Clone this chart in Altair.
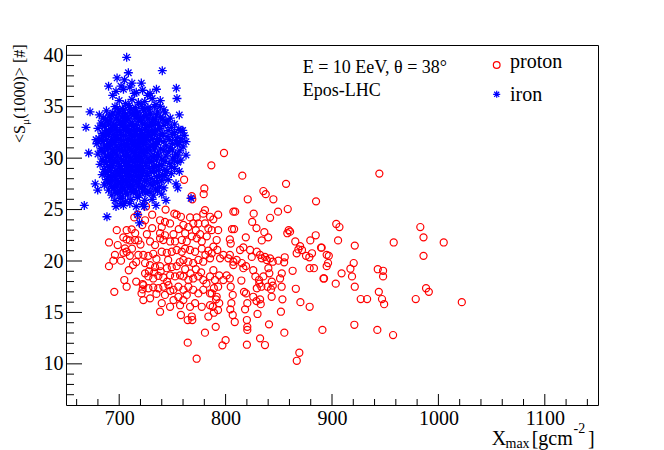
import altair as alt
import pandas as pd

# ---------------- data ----------------
proton_xmax = [
    944.5, 904, 907, 905.7, 921.4, 890.3, 897, 896.3, 895, 920.4,
    917.3, 918.8, 909, 892.5, 903.5, 921.4, 927, 933, 944, 947,
    949, 943, 948, 948, 958, 983, 986, 1005, 986, 988.4,
    991, 978.7, 1022, 891, 921, 942.6, 957.4,
    798.5, 786.6, 815.7, 856.8, 835.5, 837.7, 820.8, 844.9, 885, 858.4,
    849.3, 807.3, 809, 826.4, 841.8, 793, 788.5, 825, 829, 806,
    808, 793, 836.4, 859.3, 858, 860.6, 884.7, 819, 840, 834,
    804, 804.8, 865.5, 879.6, 870, 871.8, 889.7, 895, 881.2, 875.6,
    878.7, 866.8, 868.4, 855.6, 855, 849.6, 863, 879, 883, 892,
    866, 870.3, 879, 853.4, 852, 840.8, 855.2, 832.4, 837, 869.3,
    866.9, 820, 797, 800, 790.7, 820, 820.4, 820.4, 808.6, 806.7,
    830, 833, 832.4, 818.3, 820.4, 804.4, 805.4, 792.9, 789, 826,
    829, 843.3, 817.3, 819.2, 839.5, 842.7, 852.7, 804.8, 806.7, 791.6,
    787.9, 831.7, 833.6, 829.3, 843.4, 844.3, 851.2, 852.8, 840.2, 841.1,
    826, 828, 831.4, 835.5, 814.8, 801, 804, 797.9, 794, 788.5,
    790, 793, 807.3, 810.4, 815.2, 816.7, 819.2, 797.9, 802.6, 794.8,
    829.3, 832.4, 834, 837, 838.7, 841.8, 844.3, 823, 824.6, 816.7,
    813.6, 791.6, 788.5, 792.2, 787, 804, 807.3, 789, 787, 791,
    794,
    768.2, 768.7, 780, 779.4, 761, 725.2, 743.6, 717.4, 714.2, 731,
    754, 758, 751.8, 766.6, 772.8, 780.6, 779, 785.4, 738.4, 743,
    747.8, 740, 724.3, 721.7, 760.3, 765, 769.6, 774.4, 780.6, 783.8,
    787, 697.7, 707, 711.7, 715, 703.9, 707, 710, 714.9, 718,
    690.4, 698.6, 705.4, 704, 707, 696, 694.5, 701.7, 690.4, 718,
    722.7, 727.4, 732, 740, 744.7, 749.4, 754, 758.8, 729, 733.7,
    738.4, 741.5, 747.8, 752.5, 738.4, 743, 758.8, 763.5, 768.2, 772.9,
    777.6, 782.3, 761.9, 766.6, 771.3, 777.6, 783.8, 760.3, 765, 769.6,
    774.4, 779, 785.4, 724.3, 729, 733.7, 738.4, 744.7, 749.4, 754,
    724.3, 727.4, 732, 736.8, 741.5, 747.8, 752.5, 757.2, 760.3, 765,
    769.6, 774.4, 779, 785.4, 704.8, 707, 695.4, 722.7, 727.4, 732,
    736.8, 741.5, 746.3, 751, 755.6, 760.3, 765, 769.6, 774.4, 779,
    785.4, 721, 722.7, 729, 751, 755.6, 760.3, 763.5, 740, 747.8,
    738.4, 757.2, 766.6, 771.3, 777.6, 785.4, 758, 768.2, 764.4, 768.7,
    783.8, 780.6, 764.4, 772.8, 722, 722,
    712, 716, 720, 726, 731, 735, 746, 751, 756, 762,
    772, 776, 781, 757, 762, 767, 772, 777, 782, 748,
    743, 735, 745, 739, 733, 728, 713, 710, 709, 716,
]
proton_smu = [
    28.5, 23.6, 23.3, 22.0, 21.5, 21.3, 20.5, 19.8, 19.5, 19.8,
    19.25, 18.5, 18.8, 18.3, 17.8, 17.5, 16.3, 16.3, 17.0, 16.3,
    15.8, 19.2, 19.05, 18.5, 21.8, 23.3, 22.3, 21.8, 20.5, 17.35,
    17.0, 16.3, 16.0, 13.3, 13.8, 13.3, 12.8,
    30.5, 29.3, 28.3, 27.5, 26.8, 26.5, 26.0, 26.0, 25.8, 25.05,
    24.8, 24.8, 24.8, 24.6, 24.2, 24.5, 24.05, 23.8, 23.2, 23.1,
    23.1, 23.0, 22.8, 23.0, 22.7, 22.85, 22.5, 22.3, 22.3, 22.0,
    22.1, 21.7, 21.9, 22.0, 21.45, 21.07, 21.3, 20.6, 20.75, 20.5,
    20.36, 20.75, 21.13, 20.36, 19.87, 20.03, 19.05, 19.3, 19.3, 18.3,
    17.3, 16.0, 15.55, 16.27, 15.07, 13.84, 13.03, 12.48, 11.83, 11.08,
    10.3, 11.86, 11.8, 12.3, 13.6, 14.26, 13.6, 13.3, 14.07, 14.75,
    14.85, 15.8, 16.27, 15.3, 15.9, 15.3, 15.9, 15.23, 14.97, 16.52,
    16.1, 16.52, 17.0, 16.85, 17.5, 17.24, 17.5, 17.5, 16.7, 16.52,
    15.55, 17.8, 17.5, 17.35, 18.0, 17.6, 18.3, 18.8, 19.3, 18.8,
    19.1, 18.5, 18.15, 18.5, 18.1, 18.6, 18.3, 18.15, 18.6, 19.1,
    18.15, 17.5, 19.6, 20.1, 19.8, 19.3, 19.5, 20.6, 20.26, 20.26,
    20.9, 20.6, 20.26, 20.4, 20.1, 20.26, 19.93, 21.07, 20.4, 21.33,
    21.07, 22.04, 21.4, 21.07, 20.75, 20.6, 19.93, 17.35, 16.85, 16.27,
    15.9,
    26.3, 26.0, 27.05, 26.5, 27.9, 25.3, 25.0, 24.5, 24.24, 24.5,
    24.5, 24.3, 24.6, 24.24, 24.24, 24.95, 24.6, 24.3, 23.96, 23.8,
    23.65, 23.3, 23.96, 23.5, 23.5, 23.3, 23.65, 23.65, 23.65, 23.17,
    23.0, 23.0, 23.0, 23.08, 22.7, 22.3, 22.1, 22.0, 22.04, 22.0,
    21.8, 21.55, 21.23, 20.8, 20.9, 20.6, 20.03, 20.03, 19.5, 20.6,
    20.6, 20.5, 20.7, 20.9, 20.8, 20.9, 21.07, 20.9, 21.9, 21.55,
    22.2, 22.04, 21.9, 21.9, 22.7, 22.5, 22.04, 21.9, 22.4, 22.2,
    21.9, 22.4, 21.2, 21.07, 20.9, 21.2, 21.0, 20.1, 19.93, 19.8,
    20.1, 19.93, 20.26, 19.8, 19.6, 19.4, 19.5, 19.3, 19.4, 19.5,
    18.8, 18.5, 18.3, 18.55, 18.4, 18.6, 18.5, 18.6, 18.5, 18.15,
    18.3, 18.5, 18.15, 18.5, 18.15, 17.5, 17.0, 17.66, 17.35, 17.44,
    17.35, 17.5, 17.66, 17.2, 17.5, 17.2, 17.5, 17.2, 16.85, 17.2,
    16.85, 16.85, 16.2, 16.37, 16.2, 16.5, 16.2, 16.7, 15.9, 15.55,
    15.07, 15.7, 15.55, 15.9, 15.55, 15.7, 14.75, 14.6, 14.26, 14.26,
    14.6, 13.03, 12.06, 10.5, 17.76, 17.24,
    21.2, 19.9, 21.6, 22.6, 23.2, 20.2, 20.1, 22.6, 23.1, 22.7,
    23.0, 22.6, 20.6, 19.9, 19.2, 18.8, 19.2, 18.9, 17.8, 17.1,
    16.7, 16.8, 18.0, 19.0, 18.9, 19.0, 19.6, 20.5, 19.1, 18.0,
]

iron_xmax = [
    707, 708.6, 740.5, 698, 690, 701.7, 720.8, 753.7, 754.3, 714.2,
    726.8, 693.9, 672.6, 668.8, 681.3, 756.5, 738.6, 734.6, 738.6, 759.7,
    761.2, 758, 743.3, 745.6, 678.2, 671.3, 667.2, 688.5, 677.5, 679.8,
    756.5, 753.4, 755, 744, 734.6, 723.6, 717.4, 719, 767.5, 701.7,
    697, 762.8, 762.8,
    697, 704, 710, 716, 722, 729, 735, 705, 712,
    700, 706, 712, 718, 724, 731,
    696, 703, 709, 715, 721, 727, 733,
    688, 694, 700, 706, 711, 717, 723, 729, 736, 742,
    685, 691, 697, 703, 708, 714, 720, 726, 732, 739, 748,
    683, 689, 695, 701, 706, 712, 718, 724, 730, 737, 744, 752,
    680, 686, 692, 697, 703, 708, 713, 719, 725, 731, 738, 749, 756,
    684, 690, 695, 701, 706, 711, 716, 721, 727, 733, 741, 752, 758,
    681, 687, 693, 698, 704, 709, 714, 719, 724, 730, 736, 745, 755,
    679, 685, 691, 696, 702, 707, 712, 717, 722, 728, 734, 742, 750, 757,
    683, 689, 694, 700, 705, 710, 715, 720, 726, 732, 739, 748, 760,
    680, 686, 692, 697, 703, 708, 713, 718, 723, 729, 736, 746, 753,
    684, 690, 695, 701, 706, 711, 716, 721, 727, 733, 740, 750, 758,
    682, 688, 693, 699, 704, 709, 714, 719, 725, 731, 738, 747, 755,
    686, 691, 697, 702, 707, 712, 717, 722, 728, 735, 743, 752,
    684, 689, 695, 700, 705, 710, 715, 720, 726, 733, 741, 749,
    688, 693, 698, 703, 708, 713, 718, 724, 730, 738, 746,
    686, 691, 696, 701, 706, 711, 716, 722, 729, 736,
    690, 695, 700, 705, 710, 715, 721, 727, 734, 742,
    693, 698, 703, 708, 713, 719, 725, 732, 740,
    696, 701, 706, 711, 717, 724, 731,
    704, 710, 716, 722,
    698, 704, 710, 716, 722, 728,
    693, 699, 705, 711, 717, 723, 729, 735,
    687, 692, 698, 704, 709, 715, 721, 727, 734, 741,
    684, 690, 695, 700, 705, 710, 716, 722, 728, 734, 742,
    688, 693, 698, 704, 709, 714, 719, 724, 730, 736, 746,
    685, 690, 696, 701, 706, 712, 717, 722, 727, 733, 739, 750,
    683, 688, 694, 699, 704, 710, 715, 720, 725, 731, 738, 747, 753,
    686, 692, 697, 702, 708, 713, 718, 723, 729, 735, 744, 755,
    683, 689, 695, 700, 706, 711, 716, 721, 726, 733, 742, 750, 757,
    687, 693, 698, 704, 709, 714, 719, 724, 730, 737, 744, 755,
    685, 691, 696, 702, 707, 712, 717, 722, 728, 735, 743, 752,
    689, 694, 700, 705, 710, 715, 720, 725, 732, 740, 749,
    687, 692, 698, 703, 708, 713, 718, 723, 730, 737, 745,
    690, 696, 701, 706, 711, 716, 721, 727, 735, 743,
    689, 694, 699, 704, 709, 714, 719, 726, 733, 740,
    693, 698, 703, 708, 713, 718, 724, 731, 738,
    696, 701, 706, 711, 716, 722, 729, 736,
]
iron_smu = [
    39.8, 38.3, 38.5, 37.8, 37.0, 37.0, 37.3, 36.8, 35.8, 36.3,
    36.1, 36.1, 34.5, 33.0, 34.2, 34.2, 35.6, 35.2, 35.0, 32.7,
    32.2, 31.9, 34.4, 33.5, 31.8, 30.5, 25.4, 24.3, 27.5, 26.9,
    28.7, 27.5, 27.1, 25.9, 25.4, 25.3, 24.5, 23.7, 26.1, 25.6,
    25.3, 30.3, 31.6,
    36.5, 36.7, 36.9, 36.4, 36.6, 36.3, 36.7, 37.6, 37.3,
    35.6, 35.3, 35.7, 35.4, 35.5, 35.8,
    35.0, 34.8, 35.1, 34.9, 35.2, 34.9, 35.0,
    34.6, 34.4, 34.5, 34.3, 34.7, 34.4, 34.6, 34.3, 34.5, 34.7,
    33.9, 34.1, 33.8, 34.0, 33.9, 34.2, 33.9, 34.1, 33.8, 34.0, 33.9,
    33.4, 33.6, 33.3, 33.5, 33.7, 33.4, 33.6, 33.3, 33.5, 33.4, 33.6, 33.3,
    32.9, 33.1, 32.8, 33.0, 33.2, 32.9, 33.1, 32.8, 33.0, 33.2, 32.9, 33.0, 32.8,
    32.4, 32.6, 32.3, 32.5, 32.7, 32.4, 32.6, 32.3, 32.5, 32.6, 32.4, 32.5, 32.7,
    31.9, 32.1, 31.8, 32.0, 32.2, 31.9, 32.1, 31.8, 32.0, 32.2, 31.9, 32.1, 32.0,
    31.4, 31.6, 31.3, 31.5, 31.7, 31.4, 31.6, 31.3, 31.5, 31.7, 31.4, 31.6, 31.4, 31.5,
    30.9, 31.1, 30.8, 31.0, 31.2, 30.9, 31.1, 30.8, 31.0, 31.2, 30.9, 31.0, 31.1,
    30.4, 30.6, 30.3, 30.5, 30.7, 30.4, 30.6, 30.3, 30.5, 30.7, 30.4, 30.6, 30.4,
    29.9, 30.1, 29.8, 30.0, 30.2, 29.9, 30.1, 29.8, 30.0, 30.2, 29.9, 30.0, 29.8,
    29.4, 29.6, 29.3, 29.5, 29.7, 29.4, 29.6, 29.3, 29.5, 29.7, 29.4, 29.5, 29.6,
    28.9, 29.1, 28.8, 29.0, 29.2, 28.9, 29.1, 28.8, 29.0, 29.2, 28.9, 29.0,
    28.4, 28.6, 28.3, 28.5, 28.7, 28.4, 28.6, 28.3, 28.5, 28.7, 28.4, 28.5,
    27.9, 28.1, 27.8, 28.0, 28.2, 27.9, 28.1, 27.8, 28.0, 28.2, 27.9,
    27.4, 27.6, 27.3, 27.5, 27.7, 27.4, 27.6, 27.3, 27.5, 27.6,
    26.9, 27.1, 26.8, 27.0, 27.2, 26.9, 27.1, 26.8, 27.0, 27.1,
    26.4, 26.6, 26.3, 26.5, 26.7, 26.4, 26.6, 26.4, 26.5,
    25.9, 26.1, 25.8, 26.0, 26.2, 25.9, 26.0,
    25.4, 25.6, 25.3, 25.5,
    34.8, 34.7, 34.9, 34.6, 34.8, 34.7,
    34.2, 34.3, 34.1, 34.3, 34.2, 34.1, 34.3, 34.2,
    33.8, 33.7, 33.9, 33.7, 33.8, 33.9, 33.7, 33.8, 33.7, 33.8,
    33.2, 33.3, 33.2, 33.3, 33.2, 33.3, 33.2, 33.3, 33.2, 33.3, 33.2,
    32.7, 32.8, 32.7, 32.8, 32.7, 32.8, 32.7, 32.8, 32.7, 32.8, 32.7,
    32.2, 32.3, 32.2, 32.3, 32.2, 32.3, 32.2, 32.3, 32.2, 32.3, 32.2, 32.3,
    31.7, 31.8, 31.7, 31.8, 31.7, 31.8, 31.7, 31.8, 31.7, 31.8, 31.7, 31.8, 31.7,
    31.2, 31.3, 31.2, 31.3, 31.2, 31.3, 31.2, 31.3, 31.2, 31.3, 31.2, 31.3,
    30.7, 30.8, 30.7, 30.8, 30.7, 30.8, 30.7, 30.8, 30.7, 30.8, 30.7, 30.8, 30.7,
    30.2, 30.3, 30.2, 30.3, 30.2, 30.3, 30.2, 30.3, 30.2, 30.3, 30.2, 30.3,
    29.7, 29.8, 29.7, 29.8, 29.7, 29.8, 29.7, 29.8, 29.7, 29.8, 29.7, 29.8,
    29.2, 29.3, 29.2, 29.3, 29.2, 29.3, 29.2, 29.3, 29.2, 29.3, 29.2,
    28.7, 28.8, 28.7, 28.8, 28.7, 28.8, 28.7, 28.8, 28.7, 28.8, 28.7,
    28.2, 28.3, 28.2, 28.3, 28.2, 28.3, 28.2, 28.3, 28.2, 28.3,
    27.7, 27.8, 27.7, 27.8, 27.7, 27.8, 27.7, 27.8, 27.7, 27.8,
    27.2, 27.3, 27.2, 27.3, 27.2, 27.3, 27.2, 27.3, 27.2,
    26.7, 26.8, 26.7, 26.8, 26.7, 26.8, 26.7, 26.8,
]

x_labels = [700, 800, 900, 1000, 1100]
x_minor = [v for v in range(660, 1150, 20) if v % 100 != 0]
y_labels = [10, 15, 20, 25, 30, 35, 40]
y_minor = [v for v in range(7, 41) if v % 5 != 0]

# ---------------- styling ----------------
W, H = 532, 360
FONT = "Liberation Serif"
RED, BLUE = "#ff0000", "#0000ff"
STAR = "M-1,0L1,0M0,-1L0,1M-0.71,-0.71L0.71,0.71M-0.71,0.71L0.71,-0.71"

xs = alt.Scale(domain=[650, 1150], nice=False, zero=False)
ys = alt.Scale(domain=[6, 41], nice=False, zero=False)
xaxis = alt.Axis(values=x_labels, title=None, ticks=False, tickSize=0, domain=False, grid=False,
                 labelFont=FONT, labelFontSize=20, labelPadding=3, labelColor="black", format="d")
yaxis = alt.Axis(values=y_labels, title=None, ticks=False, tickSize=0, domain=False, grid=False,
                 labelFont=FONT, labelFontSize=20, labelPadding=3, labelColor="black", format="d")

proton_df = pd.DataFrame({"xmax": proton_xmax, "smu": proton_smu})
iron_df = pd.DataFrame({"xmax": iron_xmax, "smu": iron_smu})
one = pd.DataFrame({"a": [0]})

proton = alt.Chart(proton_df).mark_point(
    shape="circle", filled=False, color=RED, size=50, strokeWidth=1.2, opacity=1
).encode(
    x=alt.X("xmax:Q", scale=xs, axis=xaxis),
    y=alt.Y("smu:Q", scale=ys, axis=yaxis),
)

iron = alt.Chart(iron_df).mark_point(
    shape=STAR, filled=False, color=BLUE, size=81, strokeWidth=1.3, opacity=1
).encode(
    x=alt.X("xmax:Q", scale=xs, axis=xaxis),
    y=alt.Y("smu:Q", scale=ys, axis=yaxis),
)


def xticks(vals, length):
    return alt.Chart(pd.DataFrame({"v": vals})).mark_rule(color="black", strokeWidth=1).encode(
        x=alt.X("v:Q", scale=xs, axis=xaxis), y=alt.value(H), y2=alt.value(H - length))


def yticks(vals, length):
    return alt.Chart(pd.DataFrame({"v": vals})).mark_rule(color="black", strokeWidth=1).encode(
        y=alt.Y("v:Q", scale=ys, axis=yaxis), x=alt.value(0), x2=alt.value(length))


def txt(s, x, y, size, angle=None, align="left"):
    kw = dict(font=FONT, fontSize=size, align=align, baseline="alphabetic", color="black")
    if angle is not None:
        kw["angle"] = angle
    return alt.Chart(one).mark_text(**kw).encode(
        x=alt.value(x), y=alt.value(y), text=alt.value(s))


legend_p = alt.Chart(one).mark_point(
    shape="circle", filled=False, color=RED, size=45, strokeWidth=1.2, opacity=1
).encode(x=alt.value(430.7), y=alt.value(20))
legend_i = alt.Chart(one).mark_point(
    shape=STAR, filled=False, color=BLUE, size=50, strokeWidth=1.2, opacity=1
).encode(x=alt.value(430.7), y=alt.value(49.3))

layers = [
    proton, iron,
    xticks(x_labels, 11), xticks(x_minor, 6),
    yticks(y_labels, 16), yticks(y_minor, 8),
    txt("E = 10 EeV, \u03b8 = 38\u00b0", 236.7, 28.3, 18),
    txt("Epos-LHC", 236.7, 51, 18),
    txt("proton", 444, 23.3, 20),
    txt("iron", 444, 55.7, 20),
    legend_p, legend_i,
    # x axis title: X_max [gcm^-2]
    txt("X", 425.7, 399.5, 20),
    txt("max", 439.5, 402.7, 14),
    txt("[gcm", 465.7, 399.5, 20),
    txt("-2", 507.5, 387.5, 14),
    txt("]", 522, 399.5, 20),
    # y axis title: <S_mu(1000)> [#]
    txt("<S", -41, 98, 16, angle=270),
    txt("\u03bc", -37, 80.1, 11, angle=270),
    txt("(1000)> [#]", -41, 73.8, 16, angle=270),
]

chart = alt.layer(*layers).properties(
    width=W, height=H,
    autosize=alt.AutoSizeParams(type="none"),
    padding={"left": 58, "top": 37, "right": 50, "bottom": 45},
    background="white",
).configure_view(stroke="black", strokeWidth=1)

chart.save("out.html", embed_options={"renderer": "svg", "actions": False})
